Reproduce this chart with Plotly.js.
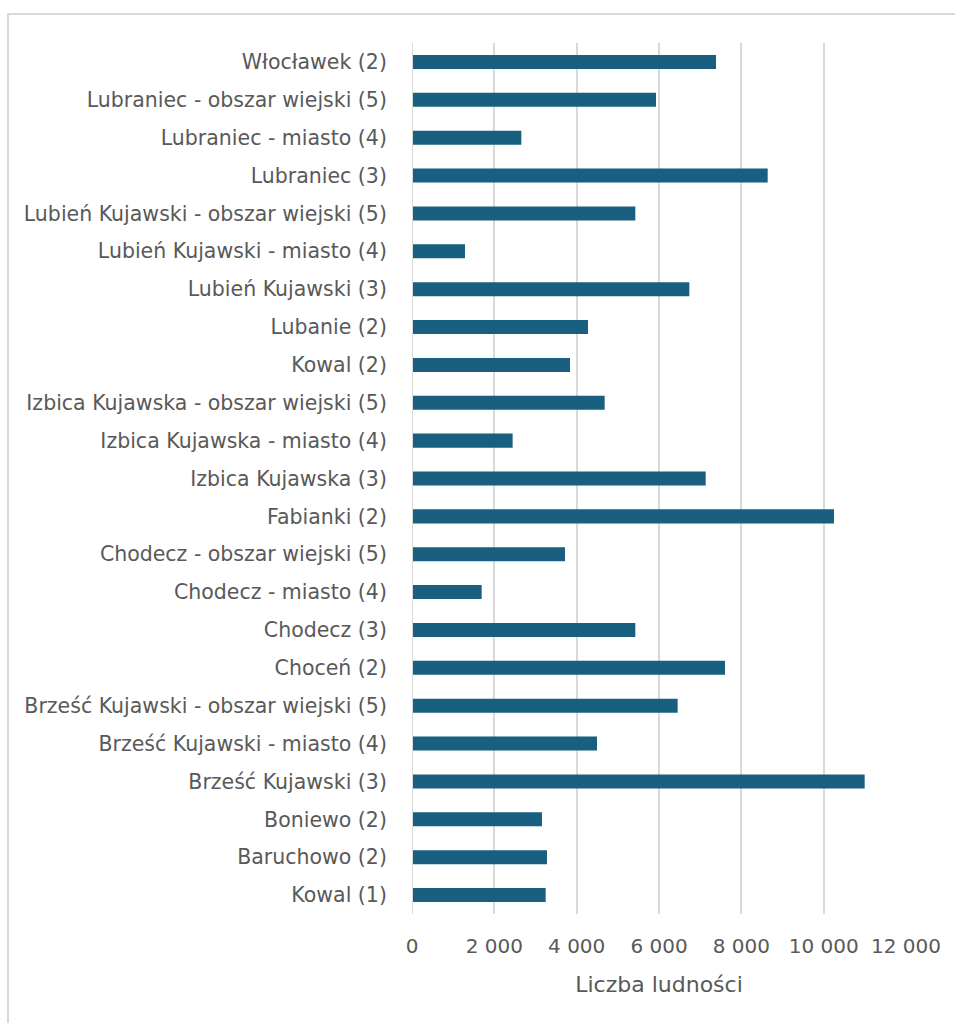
<!DOCTYPE html>
<html>
<head>
<meta charset="utf-8">
<script src="https://cdn.plot.ly/plotly-3.0.1.min.js"></script>
<style>
  html, body { margin: 0; padding: 0; background: #ffffff; overflow: hidden; }
  #chart { position: absolute; left: 0; top: 0; width: 955px; height: 1023px; }
  #frame { position: absolute; left: 7px; top: 13px; width: 980px; height: 1040px;
           border: 2px solid #d9d9d9; pointer-events: none; box-sizing: border-box; }
</style>
</head>
<body>
<div id="chart"></div>
<div id="frame"></div>
<script>
// Categories listed bottom -> top (as drawn on the axis)
const categories = [
  "Kowal (1)",
  "Baruchowo (2)",
  "Boniewo (2)",
  "Brześć Kujawski (3)",
  "Brześć Kujawski - miasto (4)",
  "Brześć Kujawski - obszar wiejski (5)",
  "Choceń (2)",
  "Chodecz (3)",
  "Chodecz - miasto (4)",
  "Chodecz - obszar wiejski (5)",
  "Fabianki (2)",
  "Izbica Kujawska (3)",
  "Izbica Kujawska - miasto (4)",
  "Izbica Kujawska - obszar wiejski (5)",
  "Kowal (2)",
  "Lubanie (2)",
  "Lubień Kujawski (3)",
  "Lubień Kujawski - miasto (4)",
  "Lubień Kujawski - obszar wiejski (5)",
  "Lubraniec (3)",
  "Lubraniec - miasto (4)",
  "Lubraniec - obszar wiejski (5)",
  "Włocławek (2)"
];

const population = [
  3247, 3279, 3158, 10996, 4494, 6453, 7603, 5425, 1692, 3717, 10251,
  7134, 2445, 4680, 3838, 4275, 6737, 1287, 5425, 8640, 2656, 5927, 7385
];

const xTickValues = [0, 2000, 4000, 6000, 8000, 10000, 12000];
const xTickLabels = ["0", "2 000", "4 000", "6 000", "8 000", "10 000", "12 000"];

const axisTitle = "Liczba ludności";

const trace = {
  type: "bar",
  orientation: "h",
  x: population,
  y: categories,
  marker: { color: "#185f80", line: { width: 0 } },
  hoverinfo: "x+y"
};

const layout = {
  width: 955,
  height: 1023,
  margin: { l: 412, r: 49, t: 43, b: 109, pad: 0 },
  paper_bgcolor: "#ffffff",
  plot_bgcolor: "#ffffff",
  showlegend: false,
  bargap: 0.63,
  font: { family: "DejaVu Sans, sans-serif", color: "#595959" },
  xaxis: {
    range: [0, 12000],
    tickvals: xTickValues,
    ticktext: xTickLabels,
    showgrid: true,
    gridcolor: "#d9d9d9",
    gridwidth: 2,
    zeroline: false,
    showline: false,
    ticks: "outside",
    ticklen: 14,
    tickcolor: "rgba(0,0,0,0)",
    tickfont: { size: 20, color: "#595959" },
    title: { text: axisTitle, font: { size: 22, color: "#595959" }, standoff: 19 },
    fixedrange: true
  },
  yaxis: {
    type: "category",
    categoryorder: "array",
    categoryarray: categories,
    showgrid: false,
    zeroline: false,
    showline: false,
    ticks: "outside",
    ticklen: 20,
    tickcolor: "rgba(0,0,0,0)",
    tickfont: { size: 20.5, color: "#595959" },
    automargin: false,
    fixedrange: true
  },
  shapes: [{
    type: "line", xref: "x", yref: "paper",
    x0: 0, x1: 0, y0: 0, y1: 1,
    line: { color: "#d9d9d9", width: 2 }
  }]
};

Plotly.newPlot("chart", [trace], layout, { displayModeBar: false, staticPlot: true });
</script>
</body>
</html>
